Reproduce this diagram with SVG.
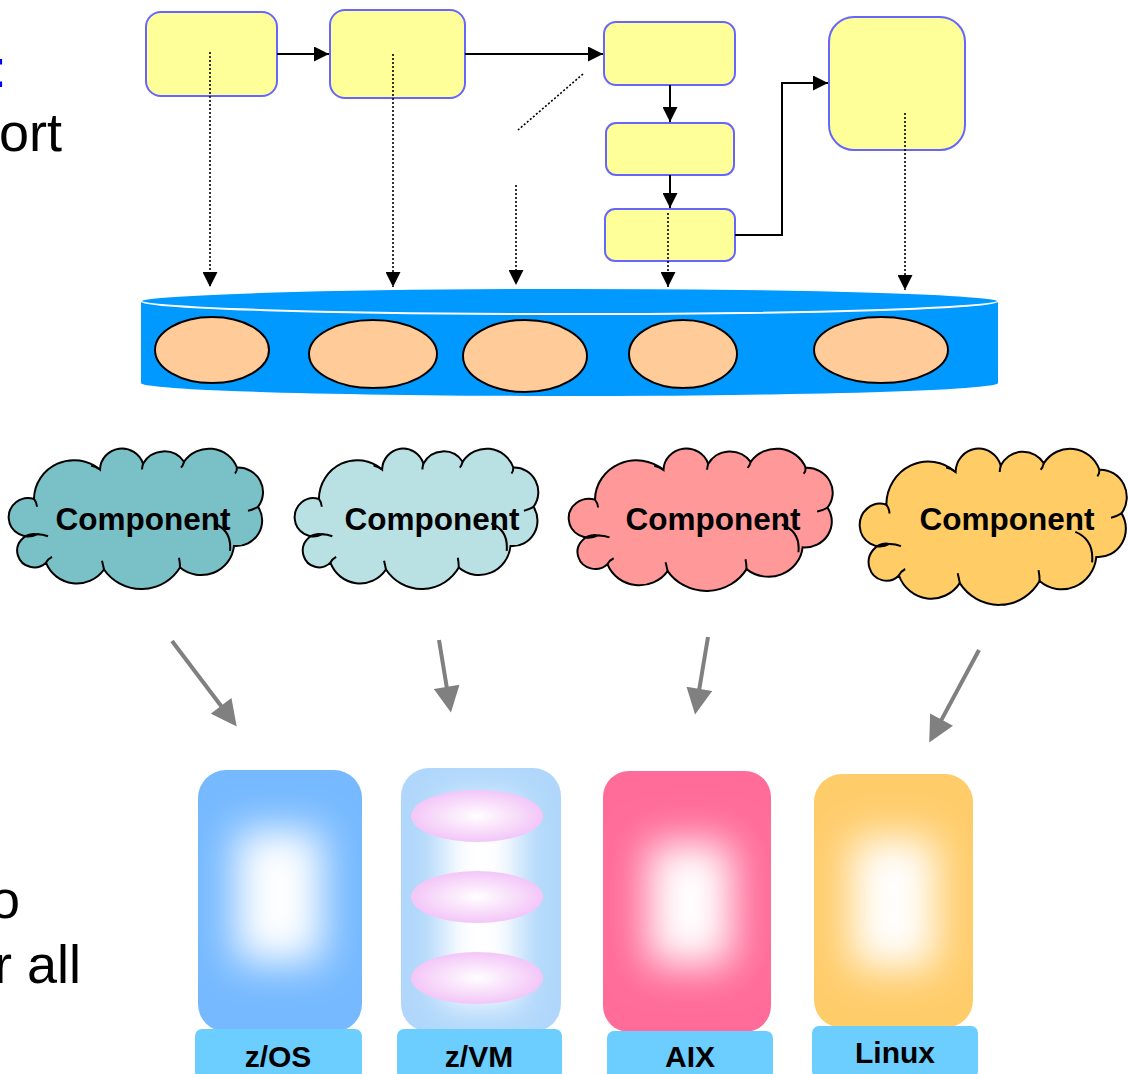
<svg xmlns="http://www.w3.org/2000/svg" xmlns:xlink="http://www.w3.org/1999/xlink" width="1128" height="1074" viewBox="0 0 1128 1074">
<style>
.side{font-family:"Liberation Sans",Arial,sans-serif;font-size:54px;fill:#000}
.box{fill:#FFFF99;stroke:#6666FF;stroke-width:2}
.solid{stroke:#000;stroke-width:2;fill:none}
.dot{stroke:#000;stroke-width:1.6;stroke-dasharray:2 2;fill:none}
.gray{stroke:#808080;stroke-width:4;fill:none}
.comp{font-family:"Liberation Sans",Arial,sans-serif;font-weight:bold;font-size:31.5px;fill:#000;text-anchor:middle}
.lbl{font-family:"Liberation Sans",Arial,sans-serif;font-weight:bold;font-size:30px;fill:#000;text-anchor:middle}
.bar{fill:#6CCDFF}
.oval{fill:#FFCC99;stroke:#000;stroke-width:2}
.cloud{stroke:#000;stroke-width:2}
</style>
<defs>
<marker id="ah" markerUnits="userSpaceOnUse" viewBox="0 0 10 10" refX="10" refY="5" markerWidth="16" markerHeight="15" orient="auto"><path d="M0,0 L10,5 L0,10 Z" fill="#000"/></marker>
<marker id="ag" markerUnits="userSpaceOnUse" viewBox="0 0 10 10" refX="5" refY="5" markerWidth="27" markerHeight="26" orient="auto"><path d="M0,0 L10,5 L0,10 Z" fill="#808080"/></marker>
<path id="cloudShape" vector-effect="non-scaling-stroke" d="M26,52 A40,40 0 0 1 92,22 A22,22 0 0 1 135,16 A24,24 0 0 1 176,14 A30,30 0 0 1 229,20 A25,25 0 0 1 250,60 A26,26 0 0 1 226,100 A33,33 0 0 1 172,122 A45,45 0 0 1 96,124 A33,33 0 0 1 38,117 A17,17 0 1 1 29,88 A19.5,19.5 0 1 1 26,52 Z"/>
<path id="cloudTicks" vector-effect="non-scaling-stroke" fill="none" d="M206,77 Q224,84 222,105 M29,88 q6,0 11,2 M38,117 q2,-4 6,-6 M96,124 q-1,-5 -2,-9 M172,122 q0,-5 -1,-10 M250,60 q-5,3 -10,4 M176,14 q-1,4 -3,6 M135,16 q-1,4 -1,6 M92,22 q-4,-3 -9,-4 M26,52 q3,4 3,8 M229,20 q0,4 -2,6"/>
<filter id="blur" x="-100%" y="-100%" width="300%" height="300%"><feGaussianBlur stdDeviation="20"/></filter>
<filter id="blur2" x="-100%" y="-100%" width="300%" height="300%"><feGaussianBlur stdDeviation="16"/></filter>
<radialGradient id="pink" cx="0.5" cy="0.5" r="0.5"><stop offset="0" stop-color="#FFFFFF"/><stop offset="0.35" stop-color="#FBEAFC"/><stop offset="1" stop-color="#F3C6F8"/></radialGradient>
<clipPath id="cZos"><rect x="198" y="770" width="164" height="262" rx="28"/></clipPath>
<clipPath id="cZvm"><rect x="401" y="768" width="160" height="264" rx="28"/></clipPath>
<clipPath id="cAix"><rect x="603" y="771" width="168" height="261" rx="26"/></clipPath>
<clipPath id="cLnx"><rect x="814" y="774" width="159" height="254" rx="28"/></clipPath>
</defs>

<g id="side-text">
<text class="side" x="-8" y="87" style="fill:#0000FF">:</text>
<text class="side" x="-1" y="151">ort</text>
<text class="side" x="-10" y="918">o</text>
<text class="side" x="-6" y="983">r all</text>
</g>

<g id="box1"><rect class="box" x="146" y="12" width="131" height="84" rx="15"/></g>
<g id="box2"><rect class="box" x="330" y="10" width="135" height="88" rx="15"/></g>
<g id="box3"><rect class="box" x="604" y="22" width="131" height="63" rx="12"/></g>
<g id="box4"><rect class="box" x="606" y="123" width="128" height="52" rx="10"/></g>
<g id="box5"><rect class="box" x="605" y="209" width="130" height="52" rx="10"/></g>
<g id="box6"><rect class="box" x="829" y="17" width="136" height="133" rx="25"/></g>

<g id="cylinder">
<path d="M141,301 L141,383 A428.5,13 0 0 0 998,383 L998,301 Z" fill="#0099FF"/>
<ellipse cx="569.5" cy="301" rx="428.5" ry="13" fill="#0099FF" stroke="#FFFFFF" stroke-width="2"/>
<ellipse class="oval" cx="212" cy="350" rx="57" ry="33"/>
<ellipse class="oval" cx="373" cy="354" rx="64" ry="34"/>
<ellipse class="oval" cx="525" cy="356" rx="62" ry="36"/>
<ellipse class="oval" cx="683" cy="354" rx="54" ry="34"/>
<ellipse class="oval" cx="881" cy="350" rx="67" ry="33"/>
</g>

<g id="connectors">
<line class="solid" x1="277" y1="54" x2="329" y2="54" marker-end="url(#ah)"/>
<line class="solid" x1="465" y1="54" x2="603" y2="54" marker-end="url(#ah)"/>
<line class="solid" x1="670" y1="85" x2="670" y2="122" marker-end="url(#ah)"/>
<line class="solid" x1="670" y1="175" x2="670" y2="208" marker-end="url(#ah)"/>
<polyline class="solid" points="735,235 782,235 782,83 828,83" marker-end="url(#ah)"/>
<line class="dot" x1="210" y1="52" x2="210" y2="287" marker-end="url(#ah)"/>
<line class="dot" x1="393" y1="54" x2="393" y2="287" marker-end="url(#ah)"/>
<line class="dot" x1="583" y1="74" x2="518" y2="130"/>
<line class="dot" x1="516" y1="185" x2="516" y2="285" marker-end="url(#ah)"/>
<line class="dot" x1="668" y1="213" x2="668" y2="287" marker-end="url(#ah)"/>
<line class="dot" x1="905" y1="113" x2="905" y2="290" marker-end="url(#ah)"/>
<line class="gray" x1="172" y1="641" x2="228.9" y2="716.2" marker-end="url(#ag)"/>
<line class="gray" x1="439" y1="640" x2="448.8" y2="699.7" marker-end="url(#ag)"/>
<line class="gray" x1="708" y1="637" x2="697.2" y2="701.7" marker-end="url(#ag)"/>
<line class="gray" x1="979" y1="650" x2="935.4" y2="731.1" marker-end="url(#ag)"/>
</g>

<g id="cloud1">
<g class="cloud" transform="translate(8,448) scale(1,0.98)"><use href="#cloudShape" fill="#7AC1C7"/><use href="#cloudTicks"/></g>
<text class="comp" x="143" y="530">Component</text>
</g>
<g id="cloud2">
<g class="cloud" transform="translate(294,448) scale(0.958,0.98)"><use href="#cloudShape" fill="#B9E0E3"/><use href="#cloudTicks"/></g>
<text class="comp" x="432" y="530">Component</text>
</g>
<g id="cloud3">
<g class="cloud" transform="translate(568,448) scale(1.038,0.993)"><use href="#cloudShape" fill="#FF9999"/><use href="#cloudTicks"/></g>
<text class="comp" x="713" y="530">Component</text>
</g>
<g id="cloud4">
<g class="cloud" transform="translate(859,448) scale(1.05,1.09)"><use href="#cloudShape" fill="#FFCC66"/><use href="#cloudTicks"/></g>
<text class="comp" x="1007" y="530">Component</text>
</g>

<g id="zos">
<rect x="198" y="770" width="164" height="262" rx="28" fill="#76B9FF"/>
<g clip-path="url(#cZos)"><rect x="236" y="830" width="86" height="132" fill="#FFFFFF" filter="url(#blur)"/></g>
<rect class="bar" x="195" y="1029" width="167" height="50" rx="7"/>
<text class="lbl" x="278" y="1067">z/OS</text>
</g>
<g id="zvm">
<rect x="401" y="768" width="160" height="264" rx="28" fill="#B0D7FB"/>
<g clip-path="url(#cZvm)"><rect x="443" y="800" width="76" height="205" fill="#FFFFFF" filter="url(#blur2)"/></g>
<ellipse cx="477" cy="816" rx="66" ry="26" fill="url(#pink)"/>
<ellipse cx="477" cy="897" rx="66" ry="26" fill="url(#pink)"/>
<ellipse cx="477" cy="978" rx="66" ry="26" fill="url(#pink)"/>
<rect class="bar" x="397" y="1029" width="165" height="50" rx="7"/>
<text class="lbl" x="479" y="1067">z/VM</text>
</g>
<g id="aix">
<rect x="603" y="771" width="168" height="261" rx="26" fill="#FF6C99"/>
<g clip-path="url(#cAix)"><rect x="648" y="843" width="84" height="122" fill="#FFFFFF" filter="url(#blur)"/></g>
<rect class="bar" x="607" y="1031" width="166" height="50" rx="7"/>
<text class="lbl" x="690" y="1067">AIX</text>
</g>
<g id="linux">
<rect x="814" y="774" width="159" height="254" rx="28" fill="#FFCC6A"/>
<g clip-path="url(#cLnx)"><rect x="852" y="838" width="84" height="130" fill="#FFFFFF" filter="url(#blur)"/></g>
<rect class="bar" x="812" y="1026" width="166" height="52" rx="7"/>
<text class="lbl" x="895" y="1063">Linux</text>
</g>
</svg>
